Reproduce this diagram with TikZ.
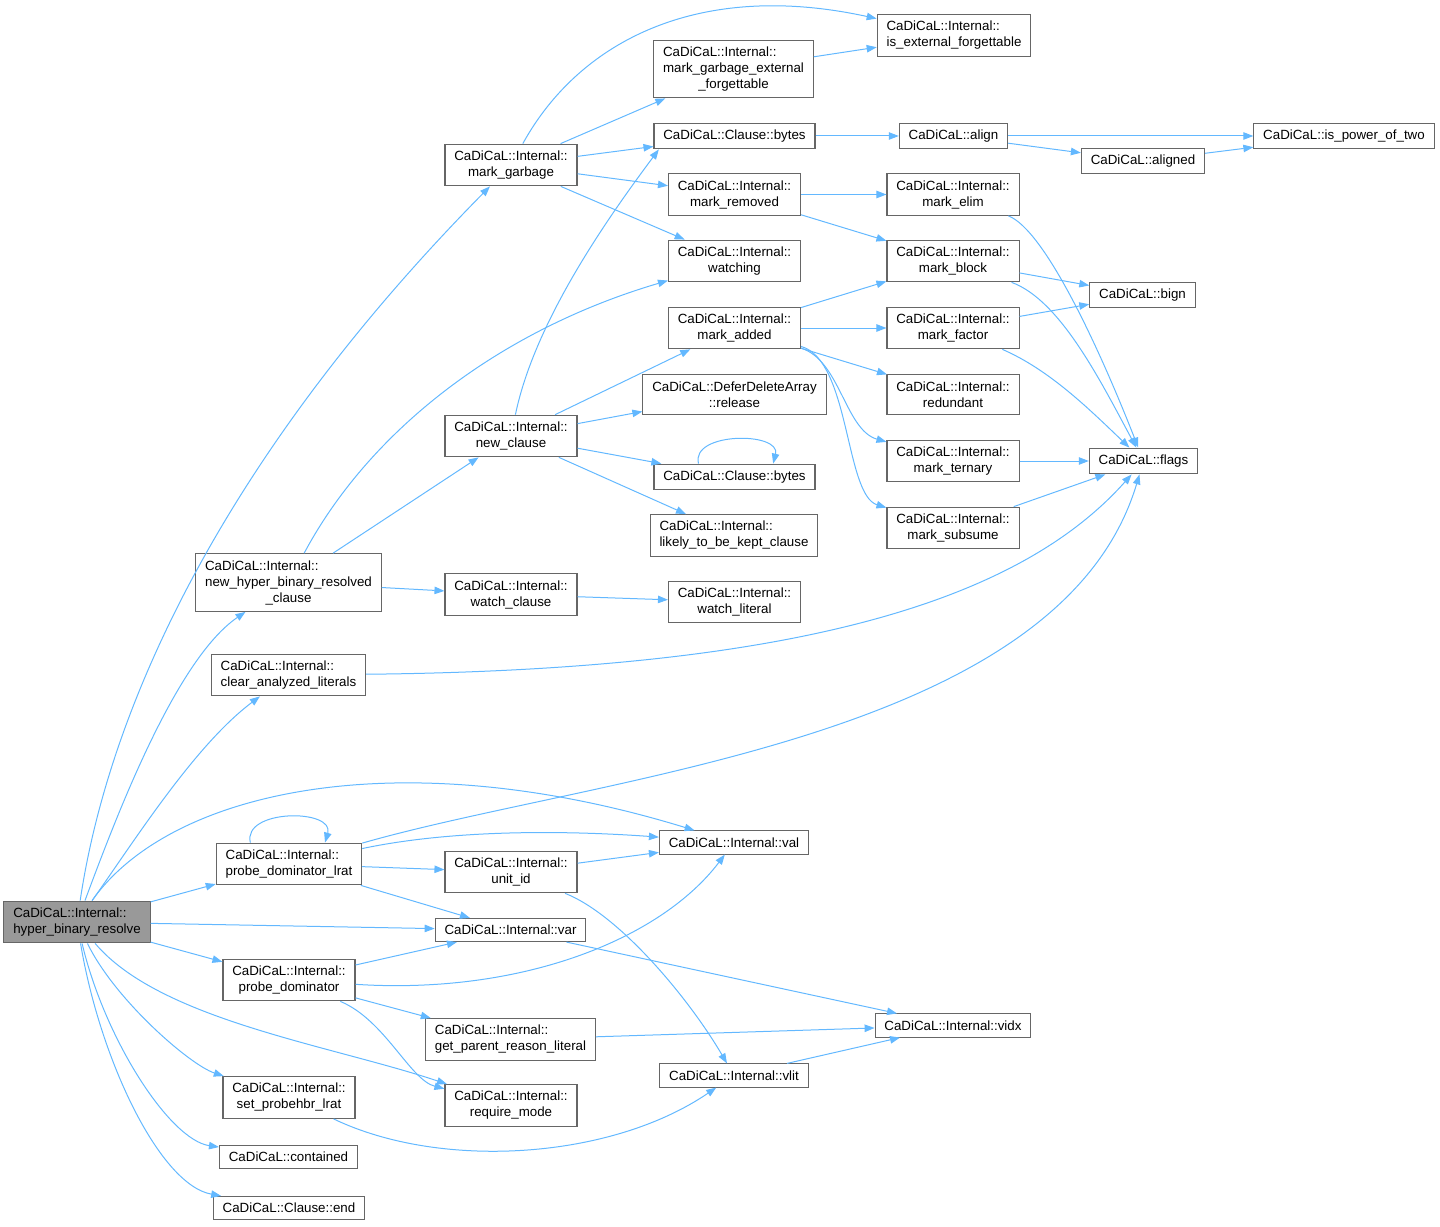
\documentclass[tikz,border=0pt]{standalone}
\usepackage{fontspec}
\setmainfont{Liberation Sans}
\usepackage{tikz}
\usetikzlibrary{arrows.meta, calc}
\definecolor{myedge}{RGB}{99,184,255}
\definecolor{myframe}{RGB}{102,102,102}
\definecolor{myroot}{RGB}{153,153,153}
\newcommand{\lastline}[1]{\hspace*{0pt plus 1filll}#1\hspace*{0pt plus 1filll}}
\tikzset{
  fnbox/.style={rectangle, draw=myframe, fill=white, align=left,
    font=\fontsize{10}{12}\selectfont, inner xsep=7pt, inner ysep=5pt,
    line width=0.8pt},
  rootbox/.style={fnbox, fill=myroot},
  arrow/.style={-{Triangle[length=7.5pt,width=5.6pt]}, color=myedge, line width=0.75pt}
}

\begin{document}
\begin{tikzpicture}[x=0.75pt, y=-0.75pt]
  \useasboundingbox (0,0) rectangle (1440,1227);
  % callers side
  \node[rootbox] (hbr) at (77,922) {CaDiCaL::Internal::\\\lastline{hyper\_binary\_resolve}};
  \node[fnbox] (mgarb) at (511,165) {CaDiCaL::Internal::\\\lastline{mark\_garbage}};
  \node[fnbox] (newcl) at (511,436) {CaDiCaL::Internal::\\\lastline{new\_clause}};
  \node[fnbox] (nhbrc) at (288.5,582.5) {CaDiCaL::Internal::\\new\_hyper\_binary\_resolved\\\lastline{\_clause}};
  \node[fnbox] (wclause) at (511,594.5) {CaDiCaL::Internal::\\\lastline{watch\_clause}};
  \node[fnbox] (cal) at (288.5,675) {CaDiCaL::Internal::\\\lastline{clear\_analyzed\_literals}};
  \node[fnbox] (pdl) at (289,864) {CaDiCaL::Internal::\\\lastline{probe\_dominator\_lrat}};
  \node[fnbox] (unitid) at (511,872) {CaDiCaL::Internal::\\\lastline{unit\_id}};
  \node[fnbox] (var) at (510.5,930) {CaDiCaL::Internal::var};
  \node[fnbox] (pd) at (289,980) {CaDiCaL::Internal::\\\lastline{probe\_dominator}};
  \node[fnbox] (gprl) at (510.5,1039.5) {CaDiCaL::Internal::\\\lastline{get\_parent\_reason\_literal}};
  \node[fnbox] (spl) at (289,1097.5) {CaDiCaL::Internal::\\\lastline{set\_probehbr\_lrat}};
  \node[fnbox] (reqm) at (511,1105.5) {CaDiCaL::Internal::\\\lastline{require\_mode}};
  \node[fnbox] (contained) at (288.5,1157) {CaDiCaL::contained};
  \node[fnbox] (cend) at (289,1208) {CaDiCaL::Clause::end};
  % middle column
  \node[fnbox] (mgef) at (733.5,69) {CaDiCaL::Internal::\\mark\_garbage\_external\\\lastline{\_forgettable}};
  \node[fnbox] (bytesA) at (734.5,136) {CaDiCaL::Clause::bytes};
  \node[fnbox] (mrem) at (734.5,194.5) {CaDiCaL::Internal::\\\lastline{mark\_removed}};
  \node[fnbox] (watching) at (734.5,261) {CaDiCaL::Internal::\\\lastline{watching}};
  \node[fnbox] (madded) at (734.5,328) {CaDiCaL::Internal::\\\lastline{mark\_added}};
  \node[fnbox] (ddarel) at (734.5,394.5) {CaDiCaL::DeferDeleteArray\\\lastline{::release}};
  \node[fnbox] (bytesB) at (734.5,477) {CaDiCaL::Clause::bytes};
  \node[fnbox] (likely) at (734,535.5) {CaDiCaL::Internal::\\\lastline{likely\_to\_be\_kept\_clause}};
  \node[fnbox] (wlit) at (734.5,602) {CaDiCaL::Internal::\\\lastline{watch\_literal}};
  \node[fnbox] (val) at (734,842.5) {CaDiCaL::Internal::val};
  \node[fnbox] (vlit) at (734,1075.5) {CaDiCaL::Internal::vlit};
  % right columns
  \node[fnbox] (ief) at (954,35.5) {CaDiCaL::Internal::\\\lastline{is\_external\_forgettable}};
  \node[fnbox] (align) at (953.5,136) {CaDiCaL::align};
  \node[fnbox] (melim) at (953,194.5) {CaDiCaL::Internal::\\\lastline{mark\_elim}};
  \node[fnbox] (mblock) at (953,261) {CaDiCaL::Internal::\\\lastline{mark\_block}};
  \node[fnbox] (mfactor) at (953,328) {CaDiCaL::Internal::\\\lastline{mark\_factor}};
  \node[fnbox] (redund) at (953,394.5) {CaDiCaL::Internal::\\\lastline{redundant}};
  \node[fnbox] (mtern) at (953,461) {CaDiCaL::Internal::\\\lastline{mark\_ternary}};
  \node[fnbox] (msub) at (953,528) {CaDiCaL::Internal::\\\lastline{mark\_subsume}};
  \node[fnbox] (vidx) at (953,1025.5) {CaDiCaL::Internal::vidx};
  \node[fnbox] (aligned) at (1143,161) {CaDiCaL::aligned};
  \node[fnbox] (bign) at (1142.5,295) {CaDiCaL::bign};
  \node[fnbox] (flags) at (1143.5,461) {CaDiCaL::flags};
  \node[fnbox] (ipot) at (1344,136) {CaDiCaL::is\_power\_of\_two};

  % calls of hyper_binary_resolve
  \draw[arrow] (hbr) .. controls (110,700) and (230,450) .. (mgarb);
  \draw[arrow] (hbr) .. controls (115,820) and (175,660) .. (nhbrc);
  \draw[arrow] (hbr) .. controls (135,840) and (195,745) .. (cal);
  \draw[arrow] (hbr) .. controls (170,790) and (400,740) .. (val);
  \draw[arrow] (hbr) -- (pdl);
  \draw[arrow] (hbr) -- (var);
  \draw[arrow] (hbr) -- (pd);
  \draw[arrow] (hbr) .. controls (160,1020) and (330,1045) .. (reqm);
  \draw[arrow] (hbr) .. controls (115,1000) and (190,1065) .. (spl);
  \draw[arrow] (hbr) .. controls (105,1040) and (170,1140) .. (contained);
  \draw[arrow] (hbr) .. controls (100,1060) and (160,1185) .. (cend);

  % lower part
  \draw[arrow] ([xshift=-29pt]pdl.north) .. controls +(-8,-34) and +(10,-34) .. ([xshift=27pt]pdl.north);
  \draw[arrow] (pdl) .. controls (600,775) and (1060,740) .. (flags);
  \draw[arrow] (pdl) .. controls (450,830) and (560,830) .. (val);
  \draw[arrow] (pdl) -- (unitid);
  \draw[arrow] (pdl) -- (var);
  \draw[arrow] (unitid) -- (val);
  \draw[arrow] (unitid) .. controls (620,915) and (690,1000) .. (vlit);
  \draw[arrow] (var) -- (vidx);
  \draw[arrow] (pd) -- (var);
  \draw[arrow] (pd) .. controls (520,995) and (660,940) .. (val);
  \draw[arrow] (pd) -- (gprl);
  \draw[arrow] (pd) .. controls (385,1020) and (410,1080) .. (reqm);
  \draw[arrow] (gprl) -- (vidx);
  \draw[arrow] (vlit) -- (vidx);
  \draw[arrow] (spl) .. controls (440,1170) and (610,1160) .. (vlit);

  % new clause part
  \draw[arrow] (nhbrc) .. controls (370,430) and (500,330) .. (watching);
  \draw[arrow] (nhbrc) -- (newcl);
  \draw[arrow] (nhbrc) -- (wclause);
  \draw[arrow] (wclause) -- (wlit);
  \draw[arrow] (cal) .. controls (800,670) and (1020,600) .. (flags);
  \draw[arrow] (newcl) .. controls (535,320) and (610,215) .. ([xshift=4pt]bytesA.south west);
  \draw[arrow] (newcl) -- (madded);
  \draw[arrow] (newcl) -- (ddarel);
  \draw[arrow] (newcl) -- (bytesB);
  \draw[arrow] (newcl) -- (likely);
  \draw[arrow] ([xshift=-27pt]bytesB.north) .. controls +(-8,-32) and +(8,-32) .. ([xshift=29pt]bytesB.north);

  % mark_garbage part
  \draw[arrow] (mgarb) .. controls (580,40) and (700,-20) .. (ief);
  \draw[arrow] (mgarb) -- (mgef);
  \draw[arrow] (mgarb) -- (bytesA);
  \draw[arrow] (mgarb) -- (mrem);
  \draw[arrow] (mgarb) -- (watching);
  \draw[arrow] (mgef) -- (ief);
  \draw[arrow] (bytesA) -- (align);
  \draw[arrow] (align) -- (ipot);
  \draw[arrow] (align) -- (aligned);
  \draw[arrow] (aligned) -- (ipot);
  \draw[arrow] (mrem) -- (melim);
  \draw[arrow] (mrem) -- (mblock);
  \draw[arrow] (melim) .. controls (1045,230) and (1100,350) .. (flags);
  \draw[arrow] (mblock) -- (bign);
  \draw[arrow] (mblock) .. controls (1060,300) and (1100,380) .. (flags);
  \draw[arrow] (madded) -- (mblock);
  \draw[arrow] (madded) -- (mfactor);
  \draw[arrow] (madded) -- (redund);
  \draw[arrow] (madded) .. controls (840,360) and (845,430) .. (mtern);
  \draw[arrow] (madded) .. controls (850,360) and (845,495) .. (msub);
  \draw[arrow] (mfactor) -- (bign);
  \draw[arrow] (mfactor) .. controls (1050,370) and (1090,410) .. (flags);
  \draw[arrow] (mtern) -- (flags);
  \draw[arrow] (msub) -- (flags);
\end{tikzpicture}
\end{document}
